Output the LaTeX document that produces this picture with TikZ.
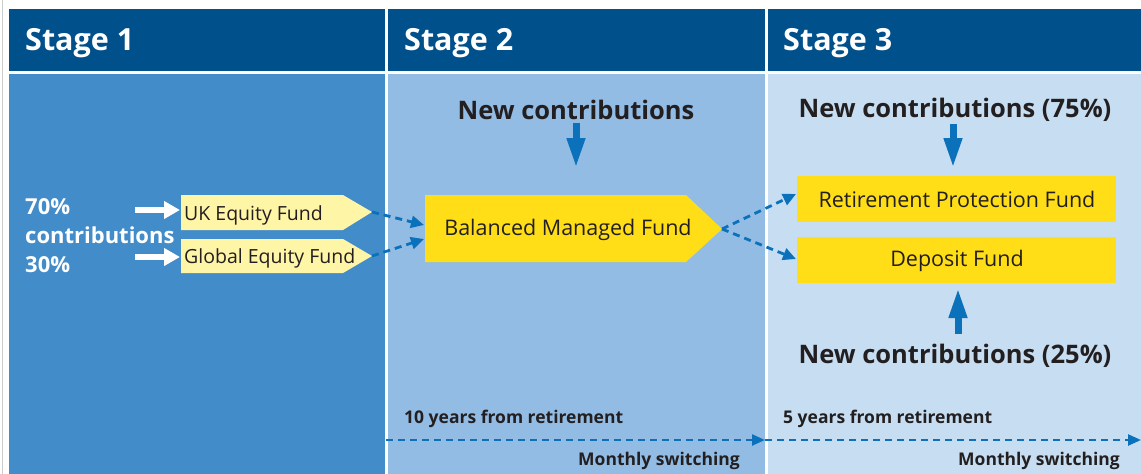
\documentclass[tikz,border=0pt]{standalone}
\usepackage{fontspec}
\setmainfont{Open Sans}
\usetikzlibrary{arrows.meta}
\definecolor{hdr}{HTML}{00508C}
\definecolor{colA}{HTML}{438CCA}
\definecolor{colB}{HTML}{92BCE4}
\definecolor{colC}{HTML}{C7DEF2}
\definecolor{fundY}{HTML}{FFDE17}
\definecolor{fundL}{HTML}{FFF5A6}
\definecolor{arrB}{HTML}{0B71BB}
\definecolor{txtD}{HTML}{231F20}
\tikzset{
  x=1pt, y=-1pt,
  hdrtext/.style={font=\fontsize{30.5}{34}\selectfont\bfseries, text=white, anchor=west, inner sep=0pt},
  pcttext/.style={font=\fontsize{22}{26}\selectfont\bfseries, text=white, anchor=west, inner sep=0pt},
  newtext/.style={font=\fontsize{25.5}{30}\selectfont\bfseries, text=txtD, inner sep=0pt},
  yeartext/.style={font=\fontsize{17.5}{21}\selectfont\bfseries, text=txtD, inner sep=0pt},
  smallfund/.style={font=\fontsize{19.5}{23}\selectfont, text=txtD, inner sep=0pt, anchor=west},
  bigfund/.style={font=\fontsize{21.5}{25}\selectfont, text=txtD, inner sep=0pt},
  dasharrow/.style={draw=arrB, line width=2.8pt, dash pattern=on 7pt off 5pt, -{Triangle[length=13pt,width=12pt]}},
  whitearrow/.style={draw=white, line width=5.5pt, -{Triangle[length=16pt,width=17pt]}},
  bluearrow/.style={draw=arrB, line width=7pt, -{Triangle[length=30pt,width=17pt]}},
}
\begin{document}
\begin{tikzpicture}
\useasboundingbox (0,0) rectangle (1141,474);
\fill[white] (0,0) rectangle (1141,474);
\draw[gray!40, line width=1pt] (2.5,0) -- (2.5,474);
% headers
\fill[hdr] (9,9) rectangle (385,71);
\fill[hdr] (388,9) rectangle (765,71);
\fill[hdr] (768,9) rectangle (1141,71);
% bodies
\fill[colA] (9,74) rectangle (385,474);
\fill[colB] (388,74) rectangle (765,474);
\fill[colC] (768,74) rectangle (1141,474);
\node[hdrtext] (s1) at (25,43) {Stage 1};
\node[hdrtext] (s2) at (404,43) {Stage 2};
\node[hdrtext] (s3) at (783,43) {Stage 3};
% stage 1
\node[pcttext] (p70) at (25,207) {70\%};
\node[pcttext] (pc) at (25,235) {contributions};
\node[pcttext] (p30) at (25,265) {30\%};
\coordinate (ukT) at (372,212);
\coordinate (glT) at (372,256);
\fill[fundL] (181,195) -- (343,195) -- (ukT) -- (343,230) -- (181,230) -- cycle;
\fill[fundL] (181,239) -- (343,239) -- (glT) -- (343,273) -- (181,273) -- cycle;
\node[smallfund] (uk) at (184,215.5) {UK Equity Fund};
\node[smallfund] (gl) at (184,258.5) {Global Equity Fund};
\coordinate (w1) at (135,210);
\coordinate (w2) at (135,257);
\draw[whitearrow] (w1) -- (180,210);
\draw[whitearrow] (w2) -- (180,257);
% stage 2
\coordinate (bmT) at (722,229);
\fill[fundY] (425,195) -- (686,195) -- (bmT) -- (686,262) -- (425,262) -- cycle;
\node[bigfund] (bm) at (568,230) {Balanced Managed Fund};
\coordinate (bmIn1) at (424,225);
\coordinate (bmIn2) at (424,239);
\draw[dasharrow] (ukT) -- (bmIn1);
\draw[dasharrow] (glT) -- (bmIn2);
\node[newtext] (nc2) at (576,110) {New contributions};
\coordinate (nc2a) at (576,123);
\coordinate (nc2b) at (576,168);
\draw[bluearrow] (nc2a) -- (nc2b);
% stage 3
\fill[fundY] (797,176) rectangle (1116,222);
\fill[fundY] (797,237) rectangle (1116,283);
\node[bigfund] (rp) at (957,199) {Retirement Protection Fund};
\node[bigfund] (dp) at (957,261) {Deposit Fund};
\coordinate (rpIn) at (796,194);
\coordinate (dpIn) at (796,259);
\draw[dasharrow] (bmT) -- (rpIn);
\draw[dasharrow] (bmT) -- (dpIn);
\node[newtext] (nc3) at (955,110) {New contributions (75\%)};
\coordinate (nc3a) at (953,124);
\coordinate (nc3b) at (953,168);
\draw[bluearrow] (nc3a) -- (nc3b);
\node[newtext] (nc4) at (955,355.5) {New contributions (25\%)};
\coordinate (nc4a) at (958,334);
\coordinate (nc4b) at (958,288);
\draw[bluearrow] (nc4a) -- (nc4b);
% bottom
\node[yeartext, anchor=west] (y10) at (404,418.5) {10 years from retirement};
\node[yeartext, anchor=west] (y5) at (783,418.5) {5 years from retirement};
\node[yeartext, anchor=east] (m1) at (740,460.5) {Monthly switching};
\node[yeartext, anchor=east] (m2) at (1120,460.5) {Monthly switching};
\coordinate (tl0) at (386,440);
\coordinate (tl1) at (765,440);
\coordinate (tl2) at (1141,440);
\draw[dasharrow, line width=2.4pt, -{Triangle[length=13pt,width=11pt]}] (tl0) -- (tl1);
\draw[dasharrow, line width=2.4pt, -{Triangle[length=13pt,width=11pt]}] (tl1) -- (tl2);
\end{tikzpicture}
\end{document}
